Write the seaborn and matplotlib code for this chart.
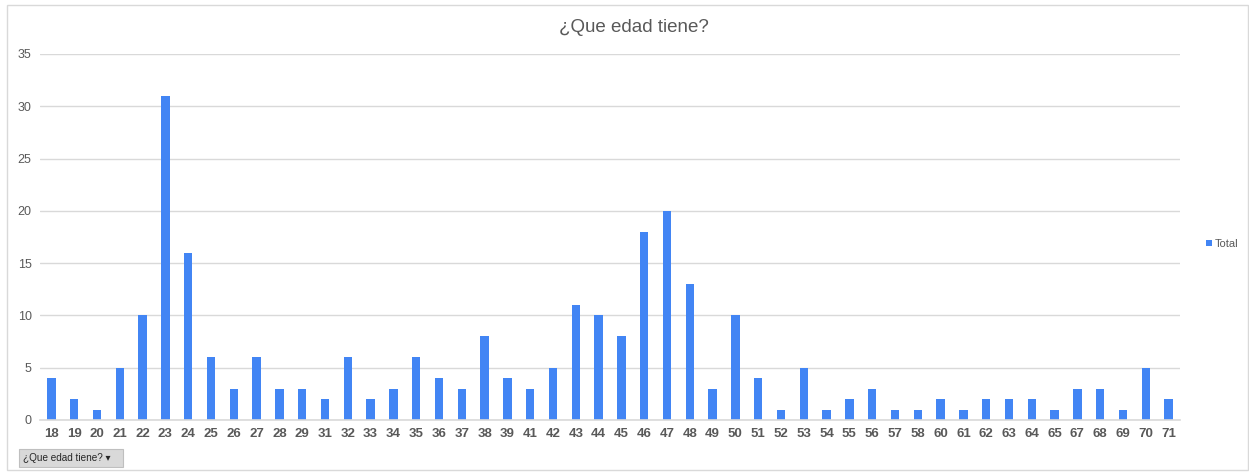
import matplotlib
matplotlib.use("Agg")
import matplotlib.pyplot as plt
import seaborn as sns
import pandas as pd
from matplotlib.patches import Rectangle, Patch

ages = ["18","19","20","21","22","23","24","25","26","27","28","29","31","32","33","34","35","36","37","38",
        "39","41","42","43","44","45","46","47","48","49","50","51","52","53","54","55","56","57","58","60",
        "61","62","63","64","65","67","68","69","70","71"]
totals = [4,2,1,5,10,31,16,6,3,6,3,3,2,6,2,3,6,4,3,8,
          4,3,5,11,10,8,18,20,13,3,10,4,1,5,1,2,3,1,1,2,
          1,2,2,2,1,3,3,1,5,2]
yticks = [0, 5, 10, 15, 20, 25, 30, 35]

sns.set_theme(style="white")
plt.rcParams['font.family'] = ['Liberation Sans', 'DejaVu Sans']

df = pd.DataFrame({"edad": ages, "Total": totals})

fig = plt.figure(figsize=(12.49, 4.72), dpi=100)
ax = fig.add_axes([40/1249, 1-420/472, 1140/1249, (420-54)/472])

blue = "#4285F4"
sns.barplot(data=df, x="edad", y="Total", color=blue, width=0.36, ax=ax, saturation=1,
            edgecolor="none", linewidth=0)

ax.set_xlim(-0.5, len(ages)-0.5)
ax.set_ylim(0, 35)
ax.set_yticks(yticks)
ax.set_yticklabels([str(v) for v in yticks])
ax.yaxis.grid(True, color="#D9D9D9", linewidth=1)
ax.set_axisbelow(True)
for s in ["top", "right", "left"]:
    ax.spines[s].set_visible(False)
ax.spines["bottom"].set_color("#D9D9D9")
ax.spines["bottom"].set_linewidth(1.2)
ax.set_xlabel("")
ax.set_ylabel("")
ax.tick_params(axis="x", length=0, pad=6, labelsize=9.5, labelcolor="#595959")
ax.tick_params(axis="y", length=0, pad=6, labelsize=9, labelcolor="#595959")
for lbl in ax.get_xticklabels():
    lbl.set_fontweight("bold")

fig.text(634/1249, 1-27/472, "¿Que edad tiene?", ha="center", va="center",
         fontsize=13.5, color="#595959")

handle = Patch(facecolor=blue, edgecolor="none")
fig.legend([handle], ["Total"], loc="center left", bbox_to_anchor=(1196/1249, 1-244/472),
           frameon=False, fontsize=8, handlelength=0.5, handleheight=0.5, handletextpad=0.3,
           labelcolor="#595959")

# outer chart border
fig.patches.append(Rectangle((7/1249, 2/472), 1241/1249, 465/472, transform=fig.transFigure,
                             fill=False, edgecolor="#D9D9D9", linewidth=1))
# field button
fig.patches.append(Rectangle((19/1249, 1-467/472), 104/1249, 18/472, transform=fig.transFigure,
                             facecolor="#D9D9D9", edgecolor="#BFBFBF", linewidth=0.8))
fig.text(23/1249, 1-458/472, "¿Que edad tiene? ▾", ha="left", va="center", fontsize=7.2,
         color="#262626", family=['Liberation Sans', 'DejaVu Sans'])

fig.savefig("out.png", dpi=100, facecolor="white")
